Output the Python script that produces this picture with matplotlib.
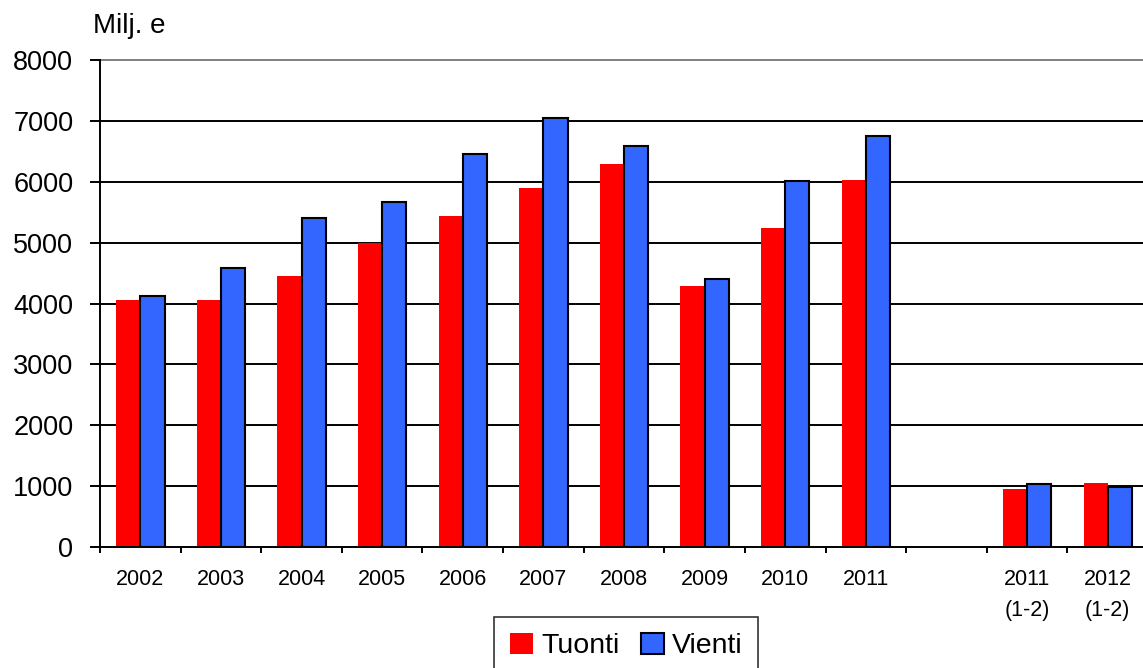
import numpy as np
import matplotlib
matplotlib.use("Agg")
import matplotlib.pyplot as plt

plt.rcParams['font.family'] = ['Liberation Sans', 'DejaVu Sans']

# data (milj. e)
categories = ['2002', '2003', '2004', '2005', '2006', '2007', '2008', '2009',
              '2010', '2011', '', '2011\n(1-2)', '2012\n(1-2)']
tuonti = [4060, 4060, 4460, 4990, 5445, 5905, 6295, 4295, 5245, 6035, np.nan, 945, 1045]
vienti = [4120, 4580, 5400, 5660, 6450, 7040, 6580, 4410, 6015, 6745, np.nan, 1035, 990]
yticks = [0, 1000, 2000, 3000, 4000, 5000, 6000, 7000, 8000]

red = '#FF0000'
blue = '#3366FF'

fig = plt.figure(figsize=(11.43, 6.68), dpi=100)
ax = fig.add_axes([0.0875, 0.1811, 0.9169, 0.7291])

x = np.arange(len(categories)) + 0.5
w = 0.3
ax.bar(x - w / 2, tuonti, width=w, color=red, edgecolor='none', label='Tuonti', zorder=3)
ax.bar(x + w / 2, vienti, width=w, color=blue, edgecolor='black', linewidth=1.5,
       label='Vienti', zorder=3)

# grid lines
for v in yticks[1:-1]:
    ax.axhline(v, color='black', linewidth=1.4, zorder=1)

ax.set_xlim(0, len(categories))
ax.set_ylim(0, 8000)
ax.set_yticks(yticks)
ax.tick_params(axis='y', labelsize=19.5, length=7.2, width=1.4, pad=12)

ax.set_xticks(x)
ax.set_xticklabels(categories, linespacing=1.6)
ax.tick_params(axis='x', which='major', length=0, labelsize=15.5, pad=16)
ax.set_xticks(np.arange(len(categories) + 1), minor=True)
ax.tick_params(axis='x', which='minor', length=4.3, width=1.4, direction='out')

for s in ['left', 'bottom']:
    ax.spines[s].set_linewidth(1.4)
    ax.spines[s].set_zorder(4)
ax.spines['top'].set_color('#808080')
ax.spines['top'].set_linewidth(1.4)
ax.spines['right'].set_visible(False)

fig.text(93 / 1143, 1 - 33 / 668, 'Milj. e', fontsize=20, va='baseline', ha='left')

leg = fig.legend(loc='upper center', bbox_to_anchor=(0.548, 0.0763), ncol=2,
                 fontsize=20.5, frameon=True, fancybox=False, edgecolor='black',
                 handlelength=0.8, handleheight=0.8, handletextpad=0.3,
                 columnspacing=0.75, borderpad=0.55, borderaxespad=0)
leg.get_frame().set_linewidth(1.2)

fig.savefig('out.png', dpi=100)
